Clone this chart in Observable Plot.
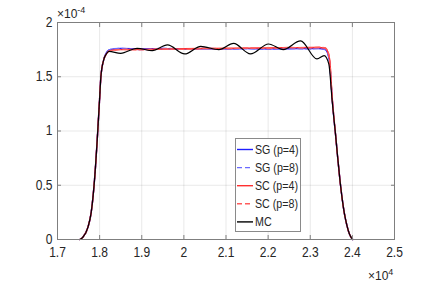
<!DOCTYPE html>
<html><head><meta charset="utf-8">
<script src="https://cdn.jsdelivr.net/npm/d3@7"></script>
<script src="https://cdn.jsdelivr.net/npm/@observablehq/plot@0.6"></script>
<style>
body{margin:0;background:#fff;}
#wrap{position:relative;width:436px;height:284px;overflow:hidden;font-family:"Liberation Sans",Arial,sans-serif;color:#262626;}
#wrap > svg{display:block;}
#legend,#overlay{position:absolute;left:0;top:0;overflow:visible;}
#legend{left:235px;top:138px;}
</style>
</head><body><div id="wrap"></div>
<script>
const xTicks=[1.7,1.8,1.9,2.0,2.1,2.2,2.3,2.4,2.5];
const xTickLabels=["1.7","1.8","1.9","2","2.1","2.2","2.3","2.4","2.5"];
const yTicks=[0,0.5,1,1.5,2];
const yTickLabels=["0","0.5","1","1.5","2"];
const seriesNames=["SG (p=4)","SG (p=8)","SC (p=4)","SC (p=8)","MC"];
const seriesColors=["#1f1fff","#6b6bff","#ff3030","#ff5c5c","#000000"];
const seriesDash=[null,"5,3",null,"5,3",null];
const yExponent="-4", xExponent="4";

const xSmooth=[1.753,1.76,1.772,1.78,1.785,1.79,1.794,1.80,1.803,1.81,1.816,1.822,1.83,1.85,1.90,1.95,2.00,2.05,2.10,2.15,2.20,2.25,2.30,2.32,2.335,2.341,2.346,2.352,2.356,2.36,2.365,2.371,2.376,2.381,2.387,2.393,2.397,2.401];
const sg4=[0,0.02,0.11,0.25,0.42,0.66,0.90,1.30,1.50,1.66,1.72,1.745,1.755,1.760,1.757,1.758,1.756,1.758,1.757,1.759,1.757,1.758,1.760,1.760,1.752,1.72,1.63,1.30,1.12,0.97,0.76,0.53,0.37,0.24,0.13,0.05,0.02,0];
const sg8=[0,0.02,0.11,0.25,0.42,0.66,0.90,1.30,1.50,1.66,1.72,1.745,1.757,1.762,1.750,1.763,1.752,1.762,1.754,1.760,1.752,1.761,1.756,1.762,1.750,1.72,1.63,1.30,1.12,0.97,0.76,0.53,0.37,0.24,0.13,0.05,0.02,0];
const sc4=[0,0.02,0.11,0.25,0.42,0.66,0.90,1.30,1.50,1.66,1.71,1.735,1.745,1.750,1.752,1.755,1.758,1.760,1.762,1.764,1.766,1.768,1.770,1.770,1.765,1.735,1.66,1.31,1.13,0.97,0.76,0.53,0.37,0.24,0.13,0.05,0.02,0];
const sc8=[0,0.02,0.11,0.25,0.42,0.66,0.90,1.30,1.50,1.66,1.71,1.735,1.742,1.752,1.748,1.757,1.752,1.762,1.758,1.765,1.761,1.769,1.766,1.772,1.767,1.74,1.66,1.31,1.13,0.97,0.76,0.53,0.37,0.24,0.13,0.05,0.02,0];

const xMC=[1.753,1.76,1.772,1.78,1.785,1.79,1.794,1.80,1.803,1.81,1.816,1.822,1.850,1.889,1.925,1.961,2.002,2.040,2.083,2.118,2.158,2.201,2.236,2.277,2.316,2.333,2.344,2.352,2.356,2.36,2.365,2.371,2.376,2.381,2.387,2.393,2.397,2.401];
const mc=[0,0.02,0.11,0.25,0.42,0.66,0.90,1.30,1.50,1.66,1.71,1.734,1.716,1.762,1.740,1.793,1.710,1.780,1.750,1.808,1.710,1.802,1.750,1.830,1.664,1.694,1.618,1.28,1.12,0.97,0.76,0.53,0.37,0.24,0.13,0.05,0.02,0];

const smoothSeries=[sg4,sg8,sc4,sc8];
const data=[];
smoothSeries.forEach((arr,s)=>arr.forEach((v,i)=>data.push({x:xSmooth[i],y:v,s:seriesNames[s]})));
mc.forEach((v,i)=>data.push({x:xMC[i],y:v,s:seriesNames[4]}));

const axisColor="#7f7f7f";
const FONT='"Liberation Sans",Arial,sans-serif';
const fmtX=d=>xTickLabels[xTicks.findIndex(t=>Math.abs(t-d)<1e-9)];
const fmtY=d=>yTickLabels[yTicks.findIndex(t=>Math.abs(t-d)<1e-9)];

const lineMarks=seriesNames.map((n,k)=>Plot.line(data.filter(d=>d.s===n),{x:"x",y:"y",stroke:seriesColors[k],strokeWidth:k===4?1.2:1.4,strokeDasharray:seriesDash[k],curve:"monotone-x"}));

const chart=Plot.plot({
  width:436,height:284,
  marginLeft:57,marginRight:42,marginTop:22,marginBottom:45,
  x:{domain:[1.7,2.5]},
  y:{domain:[0,2]},
  style:{fontFamily:FONT,fontSize:"14px",color:"#262626",background:"#fff"},
  marks:[
    Plot.gridX(xTicks,{stroke:"#000",strokeOpacity:0.09}),
    Plot.gridY(yTicks,{stroke:"#000",strokeOpacity:0.09}),
    ...lineMarks,
    Plot.frame({stroke:axisColor}),
    Plot.axisX(xTicks,{anchor:"bottom",tickSize:-4,stroke:axisColor,tickFormat:()=>"",label:null}),
    Plot.axisX(xTicks,{anchor:"top",tickSize:-4,stroke:axisColor,tickFormat:()=>"",label:null}),
    Plot.axisY(yTicks,{anchor:"left",tickSize:-4,stroke:axisColor,tickFormat:()=>"",label:null}),
    Plot.axisY(yTicks,{anchor:"right",tickSize:-4,stroke:axisColor,tickFormat:()=>"",label:null}),
    Plot.axisX(xTicks,{anchor:"bottom",tickSize:0,tickPadding:8,tickFormat:fmtX,label:null,fill:"#262626"}),
    Plot.axisY(yTicks,{anchor:"left",tickSize:0,tickPadding:5,tickFormat:fmtY,label:null,fill:"#262626"})
  ]
});
const wrap=document.getElementById("wrap");
wrap.appendChild(chart);

// condense tick labels to mimic the narrow reference font
chart.querySelectorAll("text").forEach(t=>{
  if(!t.textContent) return;
  const w=t.getComputedTextLength();
  if(w>0){t.setAttribute("textLength",(w*0.86).toFixed(2));t.setAttribute("lengthAdjust","spacingAndGlyphs");}
});

// exponent labels
const ov=d3.select(wrap).append("svg").attr("id","overlay").attr("width",436).attr("height",284).style("pointer-events","none");
function expLabel(x,y,exp){
  const t=ov.append("text").attr("x",x).attr("y",y).attr("font-family",FONT).attr("font-size","12px").attr("fill","#262626");
  t.append("tspan").text("×10");
  t.append("tspan").attr("dy","-5").attr("font-size","9px").text(exp);
}
expLabel(57,18,yExponent);
expLabel(368,280,xExponent);

// legend
const lg=d3.select(wrap).append("svg").attr("id","legend").attr("width",90).attr("height",96);
lg.append("rect").attr("x",0.5).attr("y",0.5).attr("width",65).attr("height",93).attr("fill","#fff").attr("stroke","#8a8a8a");
seriesNames.forEach((n,k)=>{
  const y=11.5+k*18.1;
  lg.append("line").attr("x1",2).attr("x2",18).attr("y1",y).attr("y2",y).attr("stroke",seriesColors[k]).attr("stroke-width",1.4).attr("stroke-dasharray",seriesDash[k]);
  const t=lg.append("text").attr("x",20).attr("y",y).attr("dy","0.35em").attr("font-size","13px").attr("fill","#262626").attr("font-family",FONT).text(n);
  const w=t.node().getComputedTextLength();
  t.attr("textLength",(w*0.82).toFixed(2)).attr("lengthAdjust","spacingAndGlyphs");
});
</script>
</body></html>
